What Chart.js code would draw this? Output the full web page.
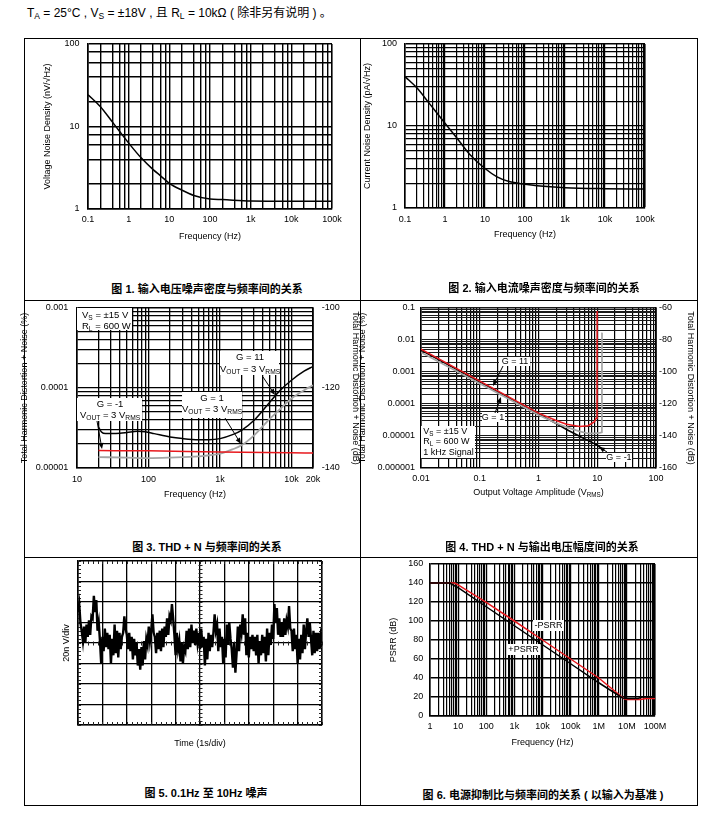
<!DOCTYPE html>
<html>
<head>
<meta charset="utf-8">
<script src="https://cdn.jsdelivr.net/npm/chart.js@4.4.1/dist/chart.umd.min.js"></script>
<style>
  body { margin: 0; background: #fff; width: 702px; height: 818px; position: relative; overflow: hidden;
         font-family: "Liberation Sans", Arial, "Noto Sans CJK SC", sans-serif; color: #000; }
  .ln { position: absolute; background: #000; }
  canvas { position: absolute; }
  .cap { position: absolute; font-weight: bold; font-size: 11px; line-height: 16px; white-space: nowrap; transform: translateX(-50%); }
  #hdr { position: absolute; left: 27px; top: 5px; font-size: 12px; line-height: 16px; white-space: nowrap; }
  #hdr sub { font-size: 8.5px; vertical-align: -2px; line-height: 0; }
</style>
</head>
<body>
<div id="hdr">T<sub>A</sub> = 25°C , V<sub>S</sub> = ±18V , 且 R<sub>L</sub> = 10kΩ ( 除非另有说明 ) 。</div>

<!-- table lines -->
<div class="ln" style="left:24px;top:38px;width:674px;height:1px"></div>
<div class="ln" style="left:24px;top:805px;width:674px;height:1px"></div>
<div class="ln" style="left:24px;top:38px;width:1px;height:768px"></div>
<div class="ln" style="left:697px;top:38px;width:1px;height:768px"></div>
<div class="ln" style="left:360px;top:38px;width:1px;height:768px"></div>
<div class="ln" style="left:24px;top:300px;width:674px;height:1px"></div>
<div class="ln" style="left:24px;top:557px;width:674px;height:1px"></div>

<canvas id="c1" width="334" height="232" style="left:25px;top:39px"></canvas>
<canvas id="c2" width="336" height="232" style="left:361px;top:39px"></canvas>
<canvas id="c3" width="345" height="232" style="left:17px;top:301px"></canvas>
<canvas id="c4" width="344" height="232" style="left:356px;top:301px"></canvas>
<canvas id="c5" width="334" height="215" style="left:25px;top:558px"></canvas>
<canvas id="c6" width="336" height="215" style="left:361px;top:558px"></canvas>

<div class="cap" style="left:207px;top:281px">图 1. 输入电压噪声密度与频率间的关系</div>
<div class="cap" style="left:544px;top:280px">图 2. 输入电流噪声密度与频率间的关系</div>
<div class="cap" style="left:207px;top:539px">图 3. THD + N 与频率间的关系</div>
<div class="cap" style="left:542px;top:539px">图 4. THD + N 与输出电压幅度间的关系</div>
<div class="cap" style="left:206px;top:785px">图 5. 0.1Hz 至 10Hz 噪声</div>
<div class="cap" style="left:543px;top:787px">图 6. 电源抑制比与频率间的关系 ( 以输入为基准 )</div>

<script>
// ---- Fig 1: voltage noise density
const vnFreq = [0.1, 0.2, 0.4, 0.6, 1, 2, 4, 6, 10, 20, 40, 100, 200, 1000, 10000, 100000];
const vnDensity = [24.3, 17.5, 11.3, 8.7, 6.3, 4.2, 3.0, 2.54, 2.05, 1.70, 1.46, 1.32, 1.30, 1.25, 1.24, 1.24];

// ---- Fig 2: current noise density
const inFreq = [0.1, 0.2, 0.4, 1, 2, 4, 10, 20, 40, 100, 200, 1000, 10000, 100000];
const inDensity = [40, 29, 19, 10.8, 7.1, 4.6, 3.03, 2.4, 2.1, 1.95, 1.87, 1.77, 1.72, 1.70];

// shared tick labels
const freqTicks = [0.1, 1, 10, 100, 1000, 10000, 100000];
const freqLabels = ['0.1', '1', '10', '100', '1k', '10k', '100k'];
const densTicks = [1, 10, 100];
const densLabels = ['1', '10', '100'];

// ---- Fig 3: THD+N vs frequency
const thdFreqG11 = [20, 22, 25, 30, 40, 50, 70, 90, 120, 200, 300, 500, 700, 1000, 1500, 2000, 3000, 5000, 7000, 10000, 15000, 20000];
const thdG11 = [3.25e-5, 2.82e-5, 2.69e-5, 2.69e-5, 2.71e-5, 2.77e-5, 2.87e-5, 2.84e-5, 2.69e-5, 2.44e-5, 2.33e-5, 2.26e-5, 2.26e-5, 2.33e-5, 2.61e-5, 2.96e-5, 3.95e-5, 6.7e-5, 9.4e-5, 1.25e-4, 1.62e-4, 1.86e-4];
const thdFreqG1 = [20, 50, 100, 200, 500, 1000, 1500, 2000, 3000, 5000, 7000, 10000, 15000, 20000];
const thdG1 = [1.37e-5, 1.35e-5, 1.33e-5, 1.35e-5, 1.40e-5, 1.51e-5, 1.71e-5, 1.92e-5, 2.56e-5, 4.14e-5, 5.5e-5, 7.4e-5, 9.4e-5, 1.08e-4];
const thdFreqGm1 = [20, 100, 1000, 10000, 20000];
const thdGm1 = [1.65e-5, 1.64e-5, 1.58e-5, 1.55e-5, 1.54e-5];
const fig3XTicks = [10, 100, 1000, 10000, 20000];
const fig3XLabels = ['10', '100', '1k', '10k', '20k'];
const fig3YTicks = [0.00001, 0.0001, 0.001];
const fig3YLabels = ['0.00001', '0.0001', '0.001'];

// ---- Fig 4: THD+N vs output amplitude
const ampG11 = [0.01, 0.1, 1, 2, 3, 5, 7, 9, 9.6, 9.9, 9.95];
const thdAmpG11 = [5.2e-3, 5.2e-4, 5.2e-5, 3.05e-5, 2.33e-5, 1.97e-5, 2.1e-5, 2.8e-5, 3.6e-5, 6e-5, 0.08];
const ampG1 = [0.01, 0.1, 1, 2, 3, 5, 7, 9, 11, 12, 12.05];
const thdAmpG1 = [4.1e-3, 4.4e-4, 4.5e-5, 2.5e-5, 1.9e-5, 1.4e-5, 1.2e-5, 1.2e-5, 1.25e-5, 1.3e-5, 0.017];
const ampGm1 = [0.01, 0.1, 1, 2, 3, 5, 7, 10, 12.5];
const thdAmpGm1 = [4.8e-3, 4.9e-4, 4.9e-5, 2.45e-5, 1.6e-5, 9.8e-6, 7.2e-6, 5.2e-6, 3.8e-6];
const fig4XTicks = [0.01, 0.1, 1, 10, 100];
const fig4XLabels = ['0.01', '0.1', '1', '10', '100'];
const fig4YTicks = [0.000001, 0.00001, 0.0001, 0.001, 0.01, 0.1];
const fig4YLabels = ['0.000001', '0.00001', '0.0001', '0.001', '0.01', '0.1'];

// ---- Fig 5: 0.1Hz to 10Hz noise, in divisions (20 nV/div), 20 samples per 1 s division
const noiseDiv = [
  1.5, 1.9, 1.0, 0.6, 0.1, 0.8, 0.0, 0.9, 0.3, 1.1, 0.4, 1.3, 1.2, 2.3, 1.5, 2.1, 0.6, 1.0, 0.1, -1.0,
  0.3, -0.4, 0.7, -0.2, 0.5, -0.3, 0.4, -1.0, 0.2, -0.6, 0.9, -0.5, 0.6, -0.7, 0.5, -0.3, 0.3, 0.5, 1.3, 0.7,
  0.4, -0.3, 0.5, -0.4, 0.3, -0.8, 0.2, -0.6, 0.0, -1.1, -0.3, -1.3, -0.2, -1.1, 0.1, -0.8, 0.2, -0.1, 0.8, 0.1,
  0.6, 1.4, 0.5, 0.3, -0.5, 0.5, -0.3, 0.6, -0.4, 0.7, -0.2, 0.8, 0.3, 1.2, 0.4, 1.3, 1.1, 1.9, 1.2, 0.4,
  -0.6, 0.5, -0.3, 0.1, -0.9, 0.0, -1.0, -0.2, -0.4, 0.6, -0.3, 0.7, -0.2, 0.9, 0.0, 0.6, -0.1, 0.7, 0.0, 0.5,
  -0.3, 0.7, -0.2, 0.3, -1.1, 0.2, -0.8, 0.5, -0.4, 0.4, -0.2, 0.5, 1.4, 0.6, 0.9, -0.4, 0.7, -0.2, 0.3, -1.0,
  0.2, -0.7, 0.9, -0.1, 1.0, 0.2, -0.3, -1.2, 0.0, -1.45, -0.5, 0.8, -0.4, 0.9, 0.5, 1.4, 0.4, 1.2, -0.6, 0.5,
  -0.7, 0.3, -0.3, 0.4, -0.4, 0.3, -0.6, 0.4, -1.0, 0.1, -0.6, 0.4, -0.5, 0.3, -0.9, 0.7, -0.6, 0.5, -0.1, 0.9,
  0.2, 1.9, 1.0, 1.7, 0.4, 1.2, 0.3, 1.0, 0.3, 1.2, 0.4, 1.1, 0.8, 1.8, 0.7, 0.6, -0.4, 0.7, -0.3, 0.4,
  -1.0, 0.2, -0.8, 0.4, -0.5, 0.9, -0.3, 0.6, 1.2, 0.3, 1.0, 0.2, -0.6, 0.6, -0.5, 0.5, -0.4, 0.5, -0.3, 0.4, 0.1
];

// ---- Fig 6: PSRR
const psrrPosFreq = [1, 5, 10, 100, 1e3, 1e4, 1e5, 1e6, 7e6, 1e7, 2.5e7, 3.5e7, 1e8];
const psrrPos = [140, 140, 135, 115, 95, 75, 55, 35, 19, 18.5, 18.5, 20, 20];
const psrrNegFreq = [1, 7.5, 10, 100, 1e3, 1e4, 1e5, 1e6, 8e6, 1e7, 3e7, 5e7, 1e8];
const psrrNeg = [140, 140, 138, 119.5, 100, 80, 60, 40, 18, 17.5, 17.5, 18.5, 18.5];
const fig6XTicks = [1, 10, 100, 1e3, 1e4, 1e5, 1e6, 1e7, 1e8];
const fig6XLabels = ['1', '10', '100', '1k', '10k', '100k', '1M', '10M', '100M'];

Chart.defaults.font.family = '"Liberation Sans", Arial, sans-serif';
Chart.defaults.font.size = 9;
Chart.defaults.color = '#000';

const BLACK = '#000', RED = '#e8191e', GRAY = '#a4a4a4';
const ALL = [1, 2, 3, 4, 5, 6, 7, 8, 9];

function logGrid(min, max, mults) {
  const out = [];
  for (let d = Math.floor(Math.log10(min)); d <= Math.ceil(Math.log10(max)); d++) {
    mults.forEach(m => {
      const v = m * Math.pow(10, d);
      if (v >= min * 0.999 && v <= max * 1.001) out.push(v);
    });
  }
  return out;
}

function labeler(vals, labels) {
  return v => {
    const i = vals.findIndex(t => Math.abs(t - v) <= Math.abs(t) * 1e-6);
    return i < 0 ? '' : labels[i];
  };
}

function scale(o) {
  const horiz = o.position === 'bottom';
  const lw = o.lw || 1.4;
  const s = {
    type: o.type || 'logarithmic',
    position: o.position,
    min: o.min, max: o.max,
    afterFit: sc => {
      if (horiz) sc.height = o.size; else sc.width = o.size;
      // plot area is placed by the fixed sizes above, not by label overflow
      sc.paddingTop = 0; sc.paddingBottom = 0; sc.paddingLeft = 0; sc.paddingRight = 0;
    },
    ticks: { autoSkip: false, maxRotation: 0, padding: o.pad, color: '#000', font: { size: 9 } },
    grid: {
      drawTicks: false, drawOnChartArea: o.onChart !== false,
      color: o.gridColor || '#000',
      lineWidth: c => (c.tick && Math.abs(c.tick.value - o.max) <= Math.abs(o.max) * 1e-9) ? 1.6 : lw
    },
    border: { color: '#000', width: 1.6 },
    title: { display: false }
  };
  if (o.grid) s.afterBuildTicks = sc => { sc.ticks = o.grid.map(v => ({ value: v })); };
  if (o.labels) s.ticks.callback = labeler(o.tickVals, o.labels);
  if (o.step) s.ticks.stepSize = o.step;
  if (o.fmt) s.ticks.callback = o.fmt;
  if (o.hideLabels) s.ticks.display = false;
  if (o.title) {
    s.title = { display: true, text: o.title, color: '#000', font: { size: 9, lineHeight: 1.2 },
      padding: horiz ? { top: 0, bottom: o.titlePad } : { top: o.titlePad, bottom: 0 } };
  }
  return s;
}

function pts(xs, ys) { return xs.map((x, i) => ({ x: x, y: ys[i] })); }

function line(xs, ys, color, smooth, width) {
  return { data: pts(xs, ys), borderColor: color, borderWidth: width || 1.5, pointRadius: 0, fill: false,
           cubicInterpolationMode: smooth ? 'monotone' : 'default', tension: 0 };
}

// ---- text helpers (subscripts written as _{...})
function richParts(s) {
  const out = [];
  s.replace(/_\{([^}]*)\}|[^_]+/g, (m, sub) => { out.push(sub !== undefined ? [sub, 1] : [m, 0]); return m; });
  return out;
}
function drawRich(ctx, s, x, y, size, align) {
  const ps = richParts(s);
  const font = sz => sz + 'px "Liberation Sans", Arial, sans-serif';
  let w = 0;
  ps.forEach(p => { ctx.font = font(p[1] ? size * 0.7 : size); p.push(ctx.measureText(p[0]).width); w += p[2]; });
  let cx = align === 'left' ? x : x - w / 2;
  ctx.textBaseline = 'middle'; ctx.textAlign = 'left'; ctx.fillStyle = '#000';
  ps.forEach(p => {
    ctx.font = font(p[1] ? size * 0.7 : size);
    ctx.fillText(p[0], cx, y + (p[1] ? size * 0.3 : 0));
    cx += p[2];
  });
}
function drawArrow(ctx, x1, y1, x2, y2) {
  const a = Math.atan2(y2 - y1, x2 - x1), L = 6, W = 2.5;
  const c = Math.cos(a), s = Math.sin(a);
  ctx.strokeStyle = '#000'; ctx.lineWidth = 1;
  ctx.beginPath(); ctx.moveTo(x1, y1); ctx.lineTo(x2 - L * c * 0.8, y2 - L * s * 0.8); ctx.stroke();
  ctx.beginPath(); ctx.moveTo(x2, y2);
  ctx.lineTo(x2 - L * c + W * s, y2 - L * s - W * c);
  ctx.lineTo(x2 - L * c - W * s, y2 - L * s + W * c);
  ctx.closePath(); ctx.fillStyle = '#000'; ctx.fill();
}

// notes: boxes/labels/arrows placed relative to the chart area's top-left corner
const notes = {
  id: 'notes',
  afterDatasetsDraw(chart, args, opts) {
    const ctx = chart.ctx, a = chart.chartArea;
    ctx.save();
    (opts.boxes || []).forEach(b => {
      ctx.fillStyle = '#fff';
      ctx.fillRect(a.left + b.r[0], a.top + b.r[1], b.r[2] - b.r[0], b.r[3] - b.r[1]);
      b.lines.forEach(l => drawRich(ctx, l[0], a.left + l[1], a.top + l[2], b.size || 9, b.align || 'center'));
    });
    (opts.arrows || []).forEach(w => drawArrow(ctx, a.left + w[0], a.top + w[1], a.left + w[2], a.top + w[3]));
    (opts.texts || []).forEach(t => drawRich(ctx, t[0], a.left + t[1], a.top + t[2], t[3] || 9, 'center'));
    ctx.restore();
  }
};

// oscilloscope-style small ticks on the frame and centre lines
const scopeTicks = {
  id: 'scopeTicks',
  beforeDatasetsDraw(chart) {
    const { ctx, chartArea: a, scales: { x, y } } = chart;
    const cx = Math.round(x.getPixelForValue(5)) + 0.5, cy = Math.round(y.getPixelForValue(0)) + 0.5;
    ctx.save(); ctx.strokeStyle = '#222'; ctx.lineWidth = 1; ctx.beginPath();
    for (let k = 0; k <= 50; k++) {
      const px = Math.round(x.getPixelForValue(k * 0.2)) + 0.5;
      ctx.moveTo(px, a.top); ctx.lineTo(px, a.top + 3);
      ctx.moveTo(px, a.bottom); ctx.lineTo(px, a.bottom - 3);
      ctx.moveTo(px, cy - 2); ctx.lineTo(px, cy + 2);
    }
    for (let k = 0; k <= 40; k++) {
      const py = Math.round(y.getPixelForValue(-4 + k * 0.2)) + 0.5;
      ctx.moveTo(a.left, py); ctx.lineTo(a.left + 3, py);
      ctx.moveTo(a.right, py); ctx.lineTo(a.right - 3, py);
      ctx.moveTo(cx - 2, py); ctx.lineTo(cx + 2, py);
    }
    ctx.stroke(); ctx.restore();
  }
};

function make(id, datasets, scales, padding, noteOpts, extraPlugins) {
  return new Chart(document.getElementById(id), {
    type: 'line',
    data: { datasets: datasets },
    options: {
      responsive: false, animation: false,
      layout: { padding: padding },
      scales: scales,
      plugins: { legend: { display: false }, tooltip: { enabled: false }, notes: noteOpts || {} }
    },
    plugins: [notes].concat(extraPlugins || [])
  });
}

// ---- Figure 1
make('c1', [line(vnFreq, vnDensity, BLACK, true)], {
  x: scale({ position: 'bottom', min: 0.1, max: 100000, grid: logGrid(0.1, 100000, [1, 2, 4, 6, 8]),
             tickVals: freqTicks, labels: freqLabels, size: 62, pad: 5, title: 'Frequency (Hz)', titlePad: 28.6 }),
  y: scale({ position: 'left', min: 1, max: 100, grid: logGrid(1, 100, [1, 2, 4, 6, 8]),
             tickVals: densTicks, labels: densLabels, size: 63, pad: 8.5, title: 'Voltage Noise Density (nV/√Hz)', titlePad: 17.6 })
}, { top: 5, right: 27, left: 0, bottom: 0 });

// ---- Figure 2
make('c2', [line(inFreq, inDensity, BLACK, true)], {
  x: scale({ position: 'bottom', min: 0.1, max: 100000, grid: logGrid(0.1, 100000, ALL), lw: 1.2,
             tickVals: freqTicks, labels: freqLabels, size: 63, pad: 6, title: 'Frequency (Hz)', titlePad: 30.6 }),
  y: scale({ position: 'left', min: 1, max: 100, grid: logGrid(1, 100, ALL), lw: 1.2,
             tickVals: densTicks, labels: densLabels, size: 44, pad: 8, title: 'Current Noise Density (pA/√Hz)', titlePad: 0.9 })
}, { top: 5, right: 52, left: 0, bottom: 0 });

// ---- Figure 3
make('c3', [
  line(thdFreqGm1, thdGm1, RED, true),
  line(thdFreqG1, thdG1, GRAY, true, 1.8),
  line(thdFreqG11, thdG11, BLACK, true)
], {
  x: scale({ position: 'bottom', min: 10, max: 20000, grid: logGrid(10, 20000, ALL), lw: 1.3,
             tickVals: fig3XTicks, labels: fig3XLabels, size: 65, pad: 6, title: 'Frequency (Hz)', titlePad: 32.6 }),
  y: scale({ position: 'left', min: 0.00001, max: 0.001, grid: logGrid(0.00001, 0.001, ALL), lw: 1.3,
             tickVals: fig3YTicks, labels: fig3YLabels, size: 60, pad: 8.7, title: 'Total Harmonic Distortion + Noise (%)', titlePad: 2.6 }),
  y2: scale({ type: 'linear', position: 'right', min: -140, max: -100, step: 20, onChart: false, fmt: v => String(v),
              size: 49, pad: 8.7, title: 'Total Harmonic Distortion + Noise (dB)', titlePad: 1.6 })
}, { top: 7, right: 0, left: 0, bottom: 0 }, {
  boxes: [
    { r: [0, 0, 55, 22], align: 'left', size: 9.5, lines: [['V_{S} = ±15 V', 5, 7], ['R_{L} = 600 W', 5, 18.7]] },
    { r: [143, 43, 202, 67], size: 9.5, lines: [['G = 11', 173, 49.5], ['V_{OUT} = 3 V_{RMS}', 173, 61]] },
    { r: [105, 84, 165, 110], size: 9.5, lines: [['G = 1', 135, 90], ['V_{OUT} = 3 V_{RMS}', 135, 101.5]] },
    { r: [0, 90, 65, 113], size: 9.5, lines: [['G = -1', 33, 96], ['V_{OUT} = 3 V_{RMS}', 33, 107.5]] }
  ],
  arrows: [[186, 69, 198, 87], [148, 110, 164, 136], [20, 113, 25, 141]]
});

// ---- Figure 4
make('c4', [
  line(ampG1, thdAmpG1, GRAY, false, 1.7),
  line(ampG11, thdAmpG11, RED, false),
  line(ampGm1, thdAmpGm1, BLACK, false)
], {
  x: scale({ position: 'bottom', min: 0.01, max: 100, grid: logGrid(0.01, 100, ALL), lw: 1.2,
             tickVals: fig4XTicks, labels: fig4XLabels, size: 65, pad: 5 }),
  y: scale({ position: 'left', min: 0.000001, max: 0.1, grid: logGrid(0.000001, 0.1, ALL), lw: 1.1, gridColor: '#1a1a1a',
             tickVals: fig4YTicks, labels: fig4YLabels, size: 65, pad: 6, title: 'Total Harmonic Distortion + Noise (%)', titlePad: 1.3 }),
  y2: scale({ type: 'linear', position: 'right', min: -160, max: -60, step: 20, onChart: false, fmt: v => String(v),
              size: 44, pad: 3, title: 'Total Harmonic Distortion + Noise (dB)', titlePad: 4.6 })
}, { top: 7, right: 0, left: 0, bottom: 0 }, {
  boxes: [
    { r: [78, 49, 109, 58], size: 9, lines: [['G = 11', 94, 53.5]] },
    { r: [61, 105, 84, 114], size: 9, lines: [['G = 1', 72, 109.5]] },
    { r: [0, 118, 54, 150], align: 'left', size: 9, lines: [['V_{S} = ±15 V', 2.3, 123.5], ['R_{L} = 600 W', 2.3, 134], ['1 kHz Signal', 2.3, 145]] },
    { r: [185, 145, 211, 154], size: 9, lines: [['G = -1', 198, 149.5]] }
  ],
  arrows: [[82, 58, 72, 78], [74, 105, 80, 89], [186, 144, 178, 139]],
  texts: [['Output Voltage Amplitude (V_{RMS})', 117.5, 185, 9]]
});

// ---- Figure 5
make('c5', [{ data: noiseDiv.map((v, i) => ({ x: i / 20, y: v })), borderColor: BLACK, borderWidth: 2.4, pointRadius: 0, tension: 0 }], {
  x: scale({ type: 'linear', position: 'bottom', min: 0, max: 10, step: 1, hideLabels: true, lw: 1.3,
             size: 48, pad: 0, title: 'Time (1s/div)', titlePad: 24.3 }),
  y: scale({ type: 'linear', position: 'left', min: -4, max: 4, step: 1, hideLabels: true, lw: 1.3,
             size: 53, pad: 0, title: '20n V/div', titlePad: 36.6 })
}, { top: 3, right: 37, left: 0, bottom: 0 }, {}, [scopeTicks]);

// ---- Figure 6
make('c6', [
  line(psrrPosFreq, psrrPos, BLACK, false),
  line(psrrNegFreq, psrrNeg, RED, false)
], {
  x: scale({ position: 'bottom', min: 1, max: 1e8, grid: logGrid(1, 1e8, ALL), lw: 1.2,
             tickVals: fig6XTicks, labels: fig6XLabels, size: 57, pad: 5.5, title: 'Frequency (Hz)', titlePad: 25.3 }),
  y: scale({ type: 'linear', position: 'left', min: 0, max: 160, step: 20,
             size: 69, pad: 6.7, title: 'PSRR (dB)', titlePad: 26.9 })
}, { top: 6, right: 42, left: 0, bottom: 0 }, {
  boxes: [
    { r: [103, 56, 134, 67], size: 9, lines: [['-PSRR', 118.5, 61.5]] },
    { r: [77, 80, 110, 91], size: 9, lines: [['+PSRR', 93.5, 85.5]] }
  ]
});
</script>
</body>
</html>
